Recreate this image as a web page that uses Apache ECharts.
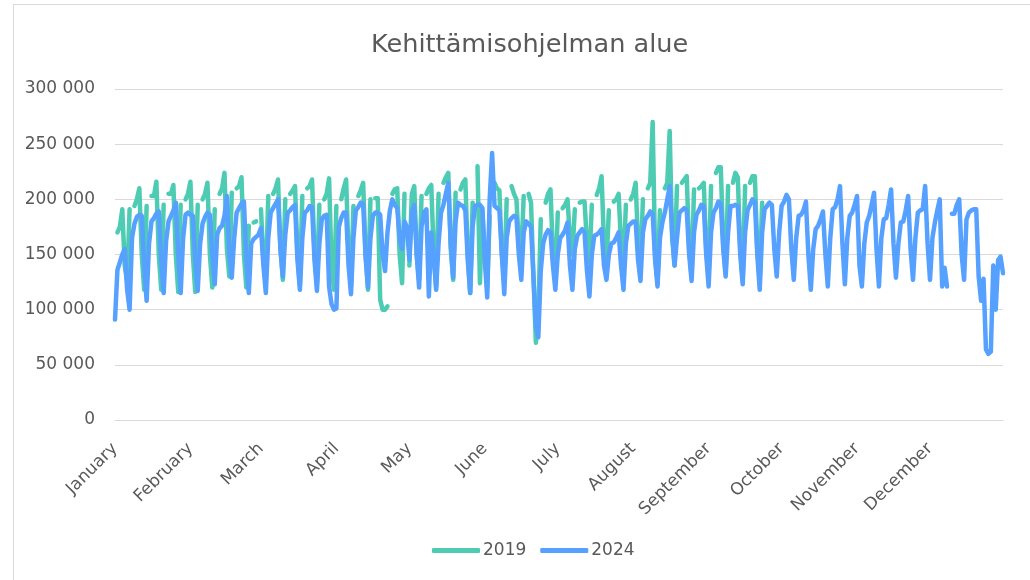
<!DOCTYPE html>
<html>
<head>
<meta charset="utf-8">
<script src="https://cdn.jsdelivr.net/npm/echarts@6/dist/echarts.min.js"></script>
<style>
  html, body { margin: 0; padding: 0; background: #ffffff; }
  #chart { position: absolute; left: 0; top: 0; width: 1030px; height: 580px; }
  #frame { position: absolute; left: 13px; top: 4px; width: 1030px; height: 600px; border: 1px solid #d9d9d9; pointer-events: none; }
</style>
</head>
<body>
<div id="chart"></div>
<div id="frame"></div>
<script>
// month names and lengths (leap year axis)
const monthNames = ["January", "February", "March", "April", "May", "June", "July",
  "August", "September", "October", "November", "December"];
const monthLengths = [31, 29, 31, 30, 31, 30, 31, 31, 30, 31, 30, 31];

// y axis ticks (thousands)
const yTicks = [0, 50, 100, 150, 200, 250, 300];

// 2024, one row per week Mon..Sun, thousands
const values2024 = [
  91, 136, 143, 150, 155, 118, 100,
  165, 178, 184, 186, 185, 140, 108,
  160, 180, 183, 187, 189, 145, 115,
  162, 180, 185, 190, 197, 150, 115,
  165, 186, 188, 186, 185, 145, 117,
  160, 178, 184, 188, 186, 150, 123,
  168, 174, 176, 185, 203, 150, 129,
  165, 188, 192, 196, 198, 145, 115,
  160, 164, 166, 168, 174, 140, 115,
  165, 188, 192, 196, 200, 155, 130,
  168, 188, 190, 193, 195, 145, 118,
  165, 188, 190, 194, 193, 145, 117,
  160, 182, 185, 186, 121, 105, 100,
  101, 175, 183, 188, 188, 140, 114,
  165, 190, 193, 197, 196, 148, 120,
  165, 185, 188, 188, 186, 150, 135,
  170, 190, 200, 195, 192, 165, 155,
  180, 175, 145, 188, 195, 150, 120,
  175, 188, 191, 112, 170, 150, 118,
  160, 188, 195, 205, 215, 160, 129,
  180, 197, 195, 194, 190, 145, 115,
  175, 194, 195, 195, 192, 145, 111,
  200, 242, 194, 192, 190, 150, 114,
  165, 180, 183, 185, 184, 150, 127,
  170, 180, 178, 175, 130, 85, 75,
  135, 160, 168, 172, 170, 140, 118,
  150, 165, 168, 172, 179, 140, 118,
  155, 167, 170, 173, 170, 135, 112,
  150, 167, 168, 170, 173, 140, 127,
  150, 160, 161, 165, 170, 140, 118,
  160, 176, 178, 180, 180, 145, 126,
  170, 182, 185, 189, 187, 145, 121,
  165, 179, 188, 200, 212, 170, 140,
  165, 188, 190, 192, 190, 150, 126,
  170, 186, 190, 195, 194, 150, 121,
  170, 188, 192, 198, 196, 155, 130,
  170, 194, 194, 195, 194, 150, 123,
  170, 190, 195, 200, 198, 150, 118,
  170, 191, 194, 197, 195, 155, 130,
  170, 194, 198, 204, 200, 155, 127,
  165, 185, 186, 190, 198, 150, 118,
  155, 173, 176, 182, 189, 150, 121,
  165, 191, 193, 200, 212, 160, 123,
  165, 185, 188, 195, 203, 140, 121,
  160, 179, 185, 195, 206, 155, 121,
  165, 182, 183, 195, 209, 160, 129,
  160, 179, 180, 190, 203, 155, 127,
  165, 188, 190, 191, 212, 160, 127,
  165, 179, 190, 200, 121, 138, 121,
  null, 187, 187, 195, 200, 150, 127,
  182, 188, 190, 191, 191, 130, 108,
  128, 64, 60, 62, 140, 100, 145,
  148, 133
];

// 2019 placed on the same calendar days, thousands; Tuesdays and 29 Feb are missing
const values2019 = [
  null, 170, 175, 191, 140, 125,
  191, null, 194, 200, 210, 150, 118,
  194, null, 203, 203, 216, 150, 118,
  195, null, 205, 205, 213, 150, 116,
  195, null, 200, 205, 216, 150, 116,
  195, null, 200, 205, 215, 150, 120,
  191, null, 205, 210, 224, 155, 130,
  206, null, 210, 212, 220, 150, 120,
  176, null, 179, 180, null, 191, 145, 127,
  203, null, 205, 210, 218, 155, 127,
  200, null, 205, 208, 212, 150, 123,
  203, null, 210, 212, 218, 150, 124,
  195, null, 200, 205, 219, 140, 118,
  194, null, 200, 210, 218, 150, 121,
  194, null, 203, 208, 215, 150, 118,
  200, null, 201, 201, 109, 100, 100,
  103, null, 205, 209, 210, 150, 124,
  205, null, 140, 205, 212, 150, 127,
  203, null, 205, 210, 213, 150, 121,
  205, null, 215, 220, 224, 155, 127,
  206, null, 209, 215, 218, 150, 115,
  197, null, 230, 124, 190, 150, 120,
  185, null, 215, 210, 208, 150, 125,
  200, null, 212, 205, 200, 160, 150,
  203, null, 205, 197, 130, 70, 95,
  182, null, 197, 205, 209, 150, 127,
  188, null, 192, 195, 200, 165, 150,
  191, null, 197, 198, 198, 160, 143,
  195, null, 204, 210, 221, 160, 140,
  190, null, 198, 200, 205, 160, 140,
  195, null, 200, 205, 215, 160, 140,
  200, null, 210, 215, 270, 150, 125,
  190, null, 210, 215, 262, 165, 140,
  212, null, 215, 218, 221, 155, 130,
  209, null, 210, 212, 215, 155, 130,
  212, null, 224, 229, 229, 160, 133,
  212, null, 215, 224, 220, 155, 127,
  212, null, 215, 221, 221, 155, 125,
  197
];

// day categories built from the month table
const days = [];
const monthStartIndex = {};
monthLengths.forEach((len, m) => {
  monthStartIndex[days.length] = monthNames[m];
  for (let i = 1; i <= len; i++) days.push(i + "." + (m + 1) + ".");
});

const chart = echarts.init(document.getElementById("chart"));
const textColor = "#595959";
const font = "DejaVu Sans";

const option = {
  animation: false,
  title: {
    text: "Kehittämisohjelman alue",
    left: 371,
    top: 32,
    padding: 0,
    textStyle: { fontFamily: font, fontSize: 25.6, fontWeight: "normal", color: textColor }
  },
  legend: {
    data: ["2019", "2024"],
    left: 432,
    top: 542,
    padding: 0,
    itemWidth: 48,
    itemHeight: 5,
    itemGap: 14,
    icon: "roundRect",
    textStyle: { fontFamily: font, fontSize: 17, color: textColor, padding: [0, 0, 0, -2] }
  },
  grid: { left: 115, right: 27, top: 89, bottom: 160, containLabel: false },
  xAxis: {
    type: "category",
    data: days,
    boundaryGap: false,
    axisTick: { show: false },
    axisLine: { lineStyle: { color: "#d9d9d9", width: 1 } },
    axisLabel: {
      interval: (idx) => monthStartIndex[idx] !== undefined,
      formatter: (val, idx) => monthStartIndex[idx] || "",
      rotate: 45,
      margin: 26,
      fontFamily: font,
      fontSize: 17,
      color: textColor
    },
    splitLine: { show: false }
  },
  yAxis: {
    type: "value",
    min: yTicks[0],
    max: yTicks[yTicks.length - 1],
    interval: yTicks[1] - yTicks[0],
    axisLine: { show: false },
    axisTick: { show: false },
    axisLabel: {
      formatter: (v) => (v === 0 ? "0" : v + " 000"),
      margin: 20,
      fontFamily: font,
      fontSize: 17,
      color: textColor
    },
    splitLine: { lineStyle: { color: "#d9d9d9", width: 1 } }
  },
  series: [
    {
      name: "2019",
      type: "line",
      data: values2019,
      showSymbol: false,
      symbol: "none",
      connectNulls: false,
      lineStyle: { width: 4.5, color: "#4ecbb3", cap: "round", join: "round" },
      itemStyle: { color: "#4ecbb3" },
      z: 2
    },
    {
      name: "2024",
      type: "line",
      data: values2024,
      showSymbol: false,
      symbol: "none",
      connectNulls: false,
      lineStyle: { width: 4.5, color: "#56a1ff", cap: "round", join: "round" },
      itemStyle: { color: "#56a1ff" },
      z: 3
    }
  ]
};

chart.setOption(option);
</script>
</body>
</html>
